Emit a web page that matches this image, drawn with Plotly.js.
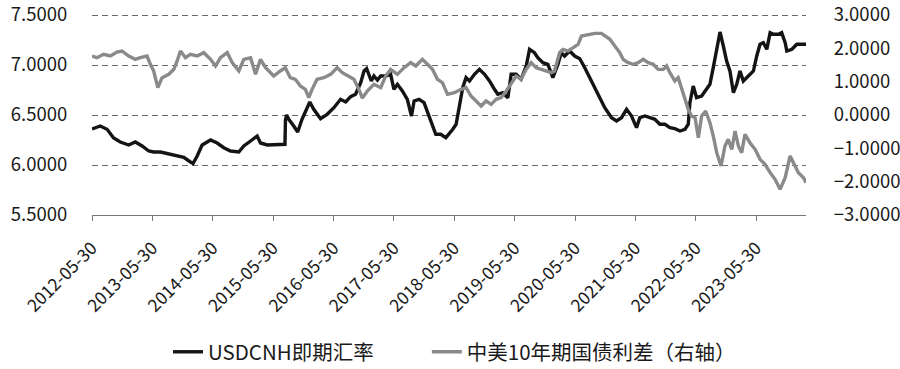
<!DOCTYPE html>
<html>
<head>
<meta charset="utf-8">
<script src="https://cdn.plot.ly/plotly-3.0.1.min.js"></script>
<style>html,body{margin:0;padding:0;background:#fff;}#chart{width:900px;height:369px;}</style>
</head>
<body>
<div id="chart"></div>
<script>
const usdDates = ["2012-05-30","2012-07-19","2012-08-29","2012-10-08","2012-11-17","2013-01-07","2013-02-16","2013-03-29","2013-05-08","2013-06-07","2013-07-18","2013-09-06","2013-10-16","2013-12-06","2014-01-15","2014-01-31","2014-02-25","2014-03-27","2014-05-17","2014-06-26","2014-08-05","2014-09-15","2014-11-04","2014-12-04","2015-01-14","2015-02-23","2015-03-15","2015-04-25","2015-08-10","2015-08-13","2015-08-20","2015-09-02","2015-10-02","2015-10-26","2015-11-21","2015-12-21","2016-01-07","2016-01-31","2016-03-12","2016-04-21","2016-06-01","2016-07-11","2016-08-11","2016-09-10","2016-10-10","2016-11-10","2016-11-30","2016-12-16","2016-12-30","2017-01-13","2017-01-29","2017-02-19","2017-03-11","2017-04-10","2017-05-10","2017-05-30","2017-06-20","2017-07-20","2017-08-19","2017-09-13","2017-09-29","2017-10-29","2017-11-28","2017-12-28","2018-01-18","2018-02-07","2018-03-09","2018-04-09","2018-05-21","2018-06-10","2018-06-30","2018-07-20","2018-08-09","2018-08-30","2018-09-29","2018-10-29","2018-11-29","2018-12-29","2019-01-28","2019-02-17","2019-03-19","2019-04-19","2019-05-09","2019-06-08","2019-07-08","2019-08-08","2019-08-28","2019-09-27","2019-10-17","2019-11-17","2019-12-17","2020-01-16","2020-02-16","2020-03-07","2020-03-27","2020-04-27","2020-05-27","2020-06-27","2020-07-27","2020-08-26","2020-09-26","2020-10-26","2020-11-25","2021-01-05","2021-02-04","2021-03-06","2021-04-06","2021-05-06","2021-06-05","2021-06-25","2021-07-26","2021-08-25","2021-09-24","2021-10-24","2021-11-24","2021-12-24","2022-01-23","2022-02-23","2022-03-25","2022-04-14","2022-04-24","2022-05-14","2022-06-03","2022-07-04","2022-08-03","2022-08-23","2022-09-12","2022-10-03","2022-10-23","2022-11-12","2022-12-02","2022-12-22","2023-01-12","2023-02-01","2023-02-21","2023-03-13","2023-04-02","2023-04-22","2023-05-13","2023-06-02","2023-06-22","2023-07-12","2023-08-02","2023-08-22","2023-09-11","2023-10-11","2023-10-31","2023-11-21","2023-12-01","2024-01-01","2024-01-30","2024-03-01","2024-03-26"];
const usdValues = [6.36,6.39,6.357,6.27,6.23,6.20,6.23,6.19,6.14,6.13,6.13,6.11,6.09,6.077,6.03,6.015,6.09,6.20,6.25,6.22,6.173,6.14,6.13,6.19,6.24,6.29,6.22,6.20,6.207,6.45,6.50,6.457,6.39,6.33,6.457,6.557,6.63,6.557,6.463,6.507,6.573,6.657,6.63,6.683,6.707,6.823,6.94,6.963,6.907,6.84,6.89,6.85,6.89,6.89,6.907,6.757,6.807,6.74,6.657,6.49,6.64,6.657,6.623,6.49,6.373,6.307,6.307,6.273,6.357,6.407,6.59,6.773,6.873,6.84,6.907,6.957,6.907,6.84,6.757,6.707,6.723,6.673,6.907,6.907,6.857,6.99,7.157,7.123,7.073,7.023,7.007,6.873,7.007,7.123,7.09,7.14,7.09,7.063,6.973,6.873,6.757,6.657,6.573,6.473,6.44,6.473,6.557,6.49,6.373,6.473,6.49,6.473,6.457,6.407,6.407,6.373,6.363,6.34,6.357,6.407,6.623,6.79,6.673,6.69,6.757,6.807,6.973,7.157,7.33,7.19,7.04,6.94,6.723,6.807,6.94,6.84,6.873,6.907,6.94,7.09,7.207,7.223,7.157,7.323,7.307,7.307,7.323,7.223,7.14,7.157,7.207,7.207,7.207];

const spreadDates = ["2012-05-30","2012-06-29","2012-08-08","2012-09-18","2012-10-28","2012-11-27","2013-01-07","2013-02-16","2013-03-18","2013-04-28","2013-05-18","2013-06-07","2013-07-02","2013-07-28","2013-09-06","2013-10-07","2013-10-27","2013-11-16","2013-12-16","2014-01-15","2014-02-25","2014-04-06","2014-05-17","2014-06-16","2014-07-16","2014-08-26","2014-09-25","2014-11-04","2014-12-04","2015-01-14","2015-02-13","2015-03-15","2015-04-15","2015-06-03","2015-07-13","2015-08-12","2015-09-11","2015-10-12","2015-11-11","2015-12-11","2016-01-01","2016-01-21","2016-02-20","2016-04-01","2016-05-12","2016-06-21","2016-07-22","2016-08-31","2016-09-30","2016-10-30","2016-11-20","2016-12-20","2017-01-29","2017-03-11","2017-04-10","2017-05-10","2017-06-20","2017-07-30","2017-09-08","2017-10-09","2017-11-18","2017-12-19","2018-01-18","2018-02-17","2018-03-19","2018-04-19","2018-05-31","2018-07-10","2018-08-09","2018-09-08","2018-10-19","2018-11-08","2018-12-08","2019-01-08","2019-02-07","2019-03-09","2019-04-09","2019-05-09","2019-06-08","2019-07-08","2019-08-08","2019-09-07","2019-10-07","2019-11-07","2019-12-07","2020-01-06","2020-01-26","2020-02-26","2020-03-18","2020-04-17","2020-05-18","2020-06-17","2020-07-07","2020-08-16","2020-09-26","2020-11-05","2020-11-25","2020-12-26","2021-01-25","2021-02-24","2021-03-16","2021-04-15","2021-05-16","2021-06-15","2021-07-15","2021-08-15","2021-09-14","2021-10-14","2021-11-14","2021-12-04","2021-12-24","2022-01-23","2022-02-12","2022-03-05","2022-03-25","2022-04-14","2022-05-04","2022-05-25","2022-06-14","2022-07-04","2022-07-28","2022-08-23","2022-09-12","2022-10-03","2022-10-29","2022-11-22","2022-12-12","2023-01-02","2023-01-22","2023-02-11","2023-03-03","2023-03-23","2023-04-22","2023-05-23","2023-06-22","2023-07-22","2023-08-22","2023-09-21","2023-10-21","2023-11-21","2023-12-21","2024-01-10","2024-02-09","2024-03-11","2024-03-26"];
const spreadValues = [1.77,1.72,1.82,1.77,1.89,1.92,1.77,1.67,1.72,1.77,1.52,1.32,0.82,1.12,1.22,1.37,1.62,1.92,1.72,1.82,1.77,1.87,1.67,1.47,1.72,1.87,1.57,1.32,1.67,1.72,1.22,1.67,1.42,1.17,1.32,1.42,1.12,1.07,0.87,0.77,0.52,0.77,1.07,1.12,1.22,1.42,1.27,1.17,1.07,0.77,0.51,0.72,0.92,0.82,1.17,1.37,1.22,1.42,1.57,1.47,1.67,1.52,1.37,1.07,0.97,0.62,0.67,0.77,0.82,0.57,0.37,0.27,0.42,0.32,0.47,0.52,0.72,0.97,1.17,1.07,1.37,1.57,1.42,1.37,1.32,1.27,1.32,1.87,1.97,1.92,2.02,2.12,2.37,2.42,2.45,2.45,2.37,2.27,2.07,1.87,1.67,1.57,1.52,1.57,1.67,1.57,1.52,1.37,1.37,1.47,1.27,1.02,1.12,0.82,0.47,0.17,-0.03,-0.08,-0.68,-0.03,0.12,-0.23,-0.63,-1.13,-1.53,-0.93,-0.73,-1.03,-0.48,-0.93,-1.13,-0.58,-0.83,-1.03,-1.33,-1.48,-1.73,-1.93,-2.23,-1.88,-1.23,-1.43,-1.73,-1.88,-2.03];

const xTickVals = ["2012-05-30","2013-05-30","2014-05-30","2015-05-30","2016-05-30","2017-05-30","2018-05-30","2019-05-30","2020-05-30","2021-05-30","2022-05-30","2023-05-30"];
const xTickText = ["2012-05-30","2013-05-30","2014-05-30","2015-05-30","2016-05-30","2017-05-30","2018-05-30","2019-05-30","2020-05-30","2021-05-30","2022-05-30","2023-05-30"];
const seriesNames = ["USDCNH即期汇率","中美10年期国债利差（右轴）"];

const FONT = '"Noto Sans CJK SC", "Noto Sans", sans-serif';

const traces = [
  {x: usdDates, y: usdValues, name: seriesNames[0], type: 'scatter', mode: 'lines',
   line: {color: '#141414', width: 3.4}, yaxis: 'y', legend: 'legend'},
  {x: spreadDates, y: spreadValues, name: seriesNames[1], type: 'scatter', mode: 'lines',
   line: {color: '#8a8a8a', width: 3.4}, yaxis: 'y2', legend: 'legend2'}
];

const legendFont = {family: FONT, size: 20.5, color: '#1a1a1a'};

const layout = {
  width: 900, height: 369,
  margin: {l: 92, r: 94, t: 13, b: 154, autoexpand: false},
  paper_bgcolor: '#fff', plot_bgcolor: '#fff',
  font: {family: FONT, size: 17, color: '#1a1a1a'},
  showlegend: true,
  legend: {orientation: 'h', x: 0.1064, xanchor: 'left', y: -0.678, yanchor: 'middle',
           font: legendFont, bgcolor: 'rgba(0,0,0,0)'},
  legend2: {orientation: 'h', x: 0.469, xanchor: 'left', y: -0.678, yanchor: 'middle',
           font: legendFont, bgcolor: 'rgba(0,0,0,0)'},
  xaxis: {
    type: 'date', range: ['2012-05-30', '2024-03-26'], automargin: false,
    tickmode: 'array', tickvals: xTickVals, ticktext: xTickText, tickangle: -45,
    ticks: 'outside', ticklen: 5, tickcolor: '#777', tickwidth: 1, ticklabelstandoff: 10,
    showline: true, linecolor: '#777', linewidth: 1, showgrid: false, zeroline: false,
    tickfont: {family: FONT, size: 17.5, color: '#1a1a1a'}
  },
  yaxis: {
    range: [5.5, 7.52], dtick: 0.5, tick0: 5.5, tickformat: '.4f', automargin: false,
    showgrid: true, gridcolor: '#6a6a6a', gridwidth: 1, griddash: '6px,4px',
    zeroline: false, showline: false,
    ticks: 'outside', ticklen: 20, tickcolor: 'rgba(0,0,0,0)',
    tickfont: {family: FONT, size: 18.5, color: '#1a1a1a'}
  },
  yaxis2: {
    range: [-3, 3.06], dtick: 1, tick0: -3, tickformat: '.4f', overlaying: 'y', side: 'right',
    automargin: false, showgrid: false, zeroline: false, showline: false,
    ticks: 'outside', ticklen: 23, tickcolor: 'rgba(0,0,0,0)',
    tickfont: {family: FONT, size: 18.5, color: '#1a1a1a'}
  }
};

Plotly.newPlot('chart', traces, layout, {displayModeBar: false, staticPlot: true});
</script>
</body>
</html>
